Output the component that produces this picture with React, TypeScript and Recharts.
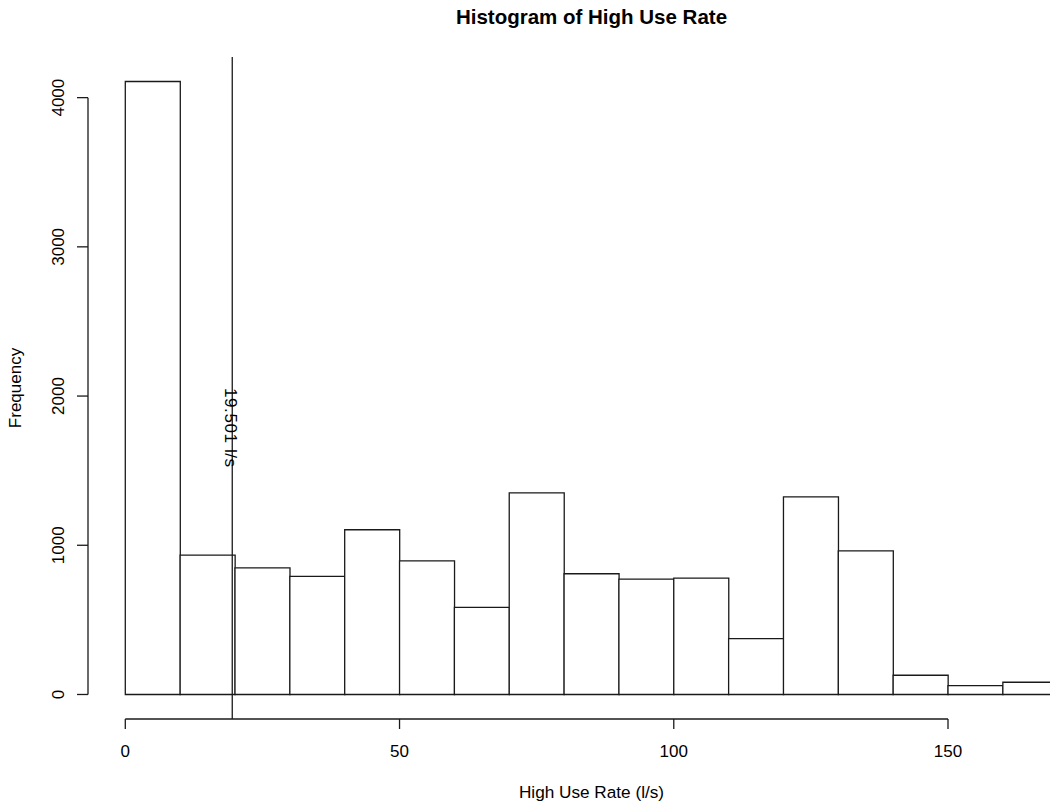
import React from 'react';
import {
  ComposedChart,
  Bar,
  XAxis,
  YAxis,
  ReferenceLine,
  ReferenceDot,
  Label,
} from 'recharts';

// Histogram bins (left edges, width 10 l/s) and their frequencies
const binStarts = [0, 10, 20, 30, 40, 50, 60, 70, 80, 90, 100, 110, 120, 130, 140, 150, 160];
const binWidth = 10;
const counts = [4108, 934, 849, 791, 1104, 896, 584, 1351, 809, 773, 780, 374, 1325, 963, 129, 59, 82];

// Axis ticks
const xTicks = [0, 50, 100, 150];
const yTicks = [0, 1000, 2000, 3000, 4000];

// Marked threshold
const thresholdValue = 19.501;
const thresholdLabel = '19.501 l/s';

// Text
const titleText = 'Histogram of High Use Rate';
const xLabelText = 'High Use Rate (l/s)';
const yLabelText = 'Frequency';

const FONT = '"Liberation Sans", Arial, Helvetica, sans-serif';
const INK = '#000000';
const LINE = '#1a1a1a';
const LW = 1.3;

const data = binStarts.map((start, i) => ({ mid: start + binWidth / 2, count: counts[i] }));

// Base-graphics style 4% padding around the data range
const xLo = binStarts[0];
const xHi = binStarts[binStarts.length - 1] + binWidth;
const xPad = 0.04 * (xHi - xLo);
const yMax = Math.max(...counts);
const yPad = 0.04 * yMax;
const xDomain: [number, number] = [xLo - xPad, xHi + xPad];
const yDomain: [number, number] = [-yPad, yMax + yPad];

const XTick = (props: any) => {
  const { x, y, payload } = props;
  return (
    <text x={x} y={y + 28} textAnchor="middle" fontFamily={FONT} fontSize={17} fill={INK}>
      {payload.value}
    </text>
  );
};

const YTick = (props: any) => {
  const { x, y, payload } = props;
  const bx = x - 13.4;
  return (
    <text
      x={bx}
      y={y}
      transform={`rotate(-90 ${bx} ${y})`}
      textAnchor="middle"
      fontFamily={FONT}
      fontSize={17}
      fill={INK}
    >
      {payload.value}
    </text>
  );
};

const XTitle = (props: any) => {
  const vb = props.viewBox;
  return (
    <text
      x={vb.x + vb.width / 2}
      y={vb.y + 79}
      textAnchor="middle"
      fontFamily={FONT}
      fontSize={17.2}
      fill={INK}
    >
      {xLabelText}
    </text>
  );
};

const YTitle = (props: any) => {
  const vb = props.viewBox;
  const cx = 20.5;
  const cy = vb.y + vb.height / 2;
  return (
    <text
      x={cx}
      y={cy}
      transform={`rotate(-90 ${cx} ${cy})`}
      textAnchor="middle"
      fontFamily={FONT}
      fontSize={17}
      fill={INK}
    >
      {yLabelText}
    </text>
  );
};

const ThresholdText = (props: any) => {
  const vb = props.viewBox;
  const tx = vb.x;
  const ty = vb.y;
  return (
    <text
      x={tx}
      y={ty}
      dy={7.5}
      transform={`rotate(90 ${tx} ${ty})`}
      textAnchor="start"
      fontFamily={FONT}
      fontSize={17}
      letterSpacing={0.6}
      fill={INK}
    >
      {thresholdLabel}
    </text>
  );
};

export default function App() {
  return (
    <div
      style={{
        position: 'absolute',
        left: 0,
        top: 0,
        width: 1050,
        height: 802,
        overflow: 'hidden',
        background: '#ffffff',
      }}
    >
      <div
        style={{
          position: 'absolute',
          left: 88,
          top: 7,
          width: 1007,
          textAlign: 'center',
          fontFamily: FONT,
          fontWeight: 'bold',
          fontSize: 20.5,
          lineHeight: '20px',
          color: INK,
        }}
      >
        {titleText}
      </div>
      <ComposedChart
        width={1120}
        height={802}
        data={data}
        margin={{ top: 57, right: 25, bottom: 0, left: 0 }}
        barCategoryGap={0}
        barGap={0}
      >
        <XAxis
          type="number"
          dataKey="mid"
          domain={xDomain}
          allowDataOverflow
          ticks={xTicks}
          interval={0}
          axisLine={false}
          tickLine={{ stroke: LINE, strokeWidth: LW }}
          tickSize={10}
          tickMargin={0}
          tick={<XTick />}
          height={83}
        >
          <Label content={<XTitle />} />
        </XAxis>
        <YAxis
          type="number"
          domain={yDomain}
          allowDataOverflow
          ticks={yTicks}
          interval={0}
          axisLine={false}
          tickLine={{ stroke: LINE, strokeWidth: LW }}
          tickSize={11}
          tickMargin={0}
          tick={<YTick />}
          width={88}
        >
          <Label content={<YTitle />} />
        </YAxis>
        <Bar
          dataKey="count"
          fill="#ffffff"
          stroke={LINE}
          strokeWidth={LW}
          isAnimationActive={false}
        />
        <ReferenceLine
          segment={[
            { x: xTicks[0], y: yDomain[0] },
            { x: xTicks[xTicks.length - 1], y: yDomain[0] },
          ]}
          stroke={LINE}
          strokeWidth={LW}
          ifOverflow="visible"
        />
        <ReferenceLine
          segment={[
            { x: xDomain[0], y: yTicks[0] },
            { x: xDomain[0], y: yTicks[yTicks.length - 1] },
          ]}
          stroke={LINE}
          strokeWidth={LW}
          ifOverflow="visible"
        />
        <ReferenceLine x={thresholdValue} stroke={LINE} strokeWidth={LW} ifOverflow="visible" />
        <ReferenceDot
          x={thresholdValue}
          y={yMax / 2}
          r={0}
          fill="none"
          stroke="none"
          label={<ThresholdText />}
        />
      </ComposedChart>
    </div>
  );
}
